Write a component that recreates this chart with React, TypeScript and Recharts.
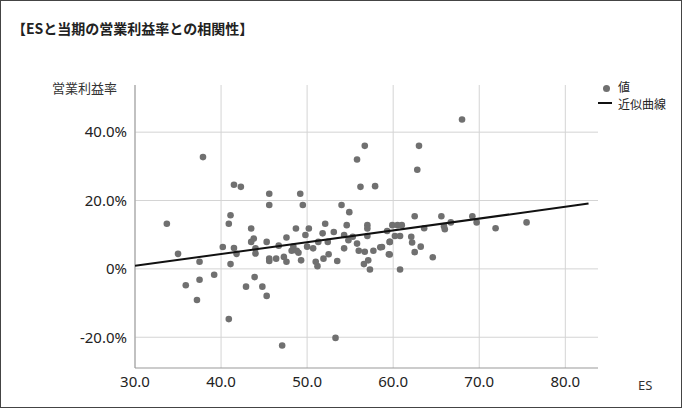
import React from 'react';
import { ScatterChart, Scatter, XAxis, YAxis, CartesianGrid } from 'recharts';

const esValues = [37.9,33.7,35.0,35.9,37.5,37.5,37.2,39.2,40.2,40.9,41.1,41.5,42.3,41.5,41.8,41.1,40.9,43.5,43.5,43.8,44.0,44.0,45.3,45.6,45.6,45.6,45.6,43.9,42.9,44.8,45.3,46.4,46.7,47.3,47.6,47.6,47.1,48.2,48.4,48.7,48.8,49.2,49.5,49.3,49.0,49.8,50.2,50.0,50.7,51.0,51.2,51.3,51.8,52.1,52.4,51.9,52.5,53.1,53.5,53.3,54.0,54.3,54.6,54.9,54.8,54.3,55.3,55.8,56.7,56.2,57.9,55.8,56.0,56.6,56.7,57.0,57.0,57.0,57.1,57.3,57.7,58.5,59.5,59.6,68.0,63.0,62.8,62.5,65.6,69.2,69.7,71.9,75.5,66.7,66.0,65.9,63.6,59.9,60.5,61.0,59.3,60.2,60.8,62.1,62.2,59.6,58.7,59.6,62.5,63.2,64.6,60.8];
const marginValues = [32.7,13.2,4.4,-4.8,2.1,-3.2,-9.1,-1.7,6.4,13.2,15.7,24.6,24.0,6.1,4.4,1.4,-14.7,11.8,7.9,8.9,6.0,4.5,7.9,22.0,18.7,3.0,2.3,-2.4,-5.2,-5.2,-7.9,3.0,6.8,3.5,2.1,9.2,-22.4,5.3,6.5,11.8,5.3,22.0,18.7,2.5,4.7,9.9,11.8,6.5,6.0,2.1,0.8,7.9,10.4,13.2,7.9,3.0,4.3,10.8,2.3,-20.2,18.7,9.9,12.8,16.6,8.4,6.0,9.4,32.0,36.0,24.0,24.2,7.4,5.3,1.4,5.0,12.8,11.8,9.6,2.5,-0.2,5.3,6.3,4.3,7.9,43.7,36.0,29.0,15.4,15.4,15.4,13.6,11.9,13.6,13.6,11.6,12.5,11.9,12.8,12.8,12.8,11.1,9.6,9.6,9.4,7.7,7.9,6.4,4.2,4.9,6.5,3.4,-0.2];
const fitX = [30, 82.7];
const fitY = [0.9, 19.1];
const xTicks = [30, 40, 50, 60, 70, 80];
const yTicks = [-20, 0, 20, 40];

const points = esValues.map((x, i) => ({ x, y: marginValues[i] }));
const fitLine = fitX.map((x, i) => ({ x, y: fitY[i] }));

const font = '"Noto Sans", sans-serif';

export default function App() {
  return (
    <div style={{ position: 'absolute', left: 0, top: 0, width: 682, height: 408, background: '#fff', fontFamily: font }}>
      <div style={{ position: 'absolute', left: 0, top: 0, width: 680, height: 406, border: '1px solid #444' }} />
      <div style={{ position: 'absolute', left: 12, top: 18, fontSize: 14, fontWeight: 'bold', color: '#222', fontFamily: '"Noto Sans CJK JP", sans-serif' }}>【ESと当期の営業利益率との相関性】</div>
      <div style={{ position: 'absolute', left: 52, top: 78, fontSize: 13, color: '#333', fontFamily: '"Noto Sans CJK JP", sans-serif' }}>営業利益率</div>
      <div style={{ position: 'absolute', left: 638, top: 376, fontSize: 13, color: '#333' }}>ES</div>
      <div style={{ position: 'absolute', left: 603, top: 85, width: 7, height: 7, borderRadius: 4, background: '#707070' }} />
      <div style={{ position: 'absolute', left: 618, top: 78, fontSize: 12, color: '#222', fontFamily: '"Noto Sans CJK JP", sans-serif' }}>値</div>
      <div style={{ position: 'absolute', left: 598, top: 102, width: 14, height: 2, background: '#111' }} />
      <div style={{ position: 'absolute', left: 618, top: 95, fontSize: 12, color: '#222', fontFamily: '"Noto Sans CJK JP", sans-serif' }}>近似曲線</div>
      <ScatterChart width={682} height={408} margin={{ top: 85, right: 84, bottom: 0, left: 0 }} style={{ position: 'absolute', left: 0, top: 0 }}>
        <CartesianGrid stroke="#d4d4d4" horizontalValues={yTicks} verticalValues={xTicks} />
        <XAxis type="number" dataKey="x" domain={[30, 83.8]} ticks={xTicks} height={40} allowDataOverflow
          tickFormatter={(v) => v.toFixed(1)} tick={{ fontSize: 15, fill: '#222', fontFamily: font }}
          axisLine={{ stroke: '#999' }} tickLine={false} />
        <YAxis type="number" dataKey="y" domain={[-29, 53.8]} ticks={yTicks} width={135} allowDataOverflow
          tickFormatter={(v) => (v === 0 ? '0%' : v.toFixed(1) + '%')} tick={{ fontSize: 15, fill: '#222', fontFamily: font }}
          axisLine={{ stroke: '#999' }} tickLine={false} />
        <Scatter data={points} fill="#707070" isAnimationActive={false}
          shape={(p: any) => <circle cx={p.cx} cy={p.cy} r={3.3} fill="#707070" />} />
        <Scatter data={fitLine} line={{ stroke: '#111', strokeWidth: 2 }} isAnimationActive={false}
          shape={() => <g />} />
      </ScatterChart>
    </div>
  );
}
